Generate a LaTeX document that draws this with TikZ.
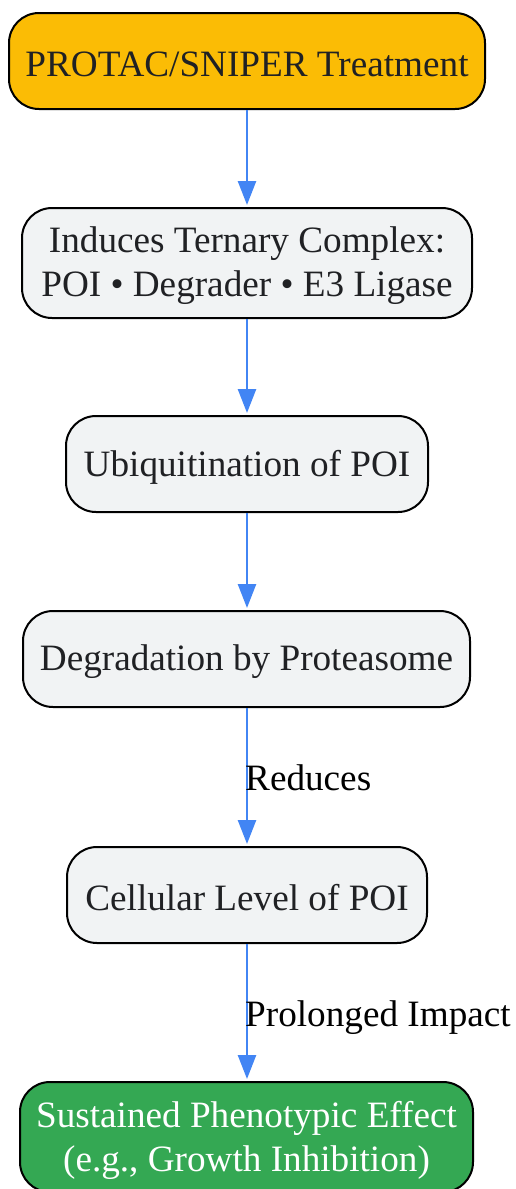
\documentclass[tikz,border=0pt]{standalone}
\usepackage{fontspec}
\setmainfont{Liberation Serif}
\usetikzlibrary{arrows.meta}
\definecolor{gyellow}{HTML}{FBBC05}
\definecolor{ggreen}{HTML}{34A853}
\definecolor{ggray}{HTML}{F1F3F4}
\definecolor{gblue}{HTML}{4285F4}
\definecolor{gtext}{HTML}{202124}
\tikzset{
  box/.style={draw=black, line width=2pt, rounded corners=30pt, inner sep=0pt},
  boxtext/.style={inner sep=0pt, align=center, text=gtext, font=\fontsize{37.2}{44}\selectfont},
  flow/.style={draw=gblue, line width=2.5pt, shorten >=2pt, -{Triangle[width=18pt,length=24pt]}},
  elabel/.style={anchor=base west, inner sep=0pt, text=black, font=\fontsize{37.2}{44}\selectfont}
}
\begin{document}
\begin{tikzpicture}[x=1pt,y=-1pt]
\useasboundingbox[fill=white] (0,0) rectangle (515,1189);
\node[box, fill=gyellow, minimum width=476pt, minimum height=96pt] (n1) at (247,61) {};
\node[box, fill=ggray, minimum width=450pt, minimum height=110pt] (n2) at (247,263) {};
\node[box, fill=ggray, minimum width=362pt, minimum height=96pt] (n3) at (247,464) {};
\node[box, fill=ggray, minimum width=447pt, minimum height=96pt] (n4) at (246.5,659) {};
\node[box, fill=ggray, minimum width=360pt, minimum height=96pt] (n5) at (247,895) {};
\node[box, fill=ggreen, minimum width=453pt, minimum height=110pt] (n6) at (246.5,1137) {};
\node[boxtext] (t1) at ([yshift=-3pt]n1.center) {PROTAC/SNIPER Treatment};
\node[boxtext] (t2) at ([yshift=-3pt]n2.center) {Induces Ternary Complex:\\POI • Degrader • E3 Ligase};
\node[boxtext] (t3) at ([yshift=-3pt]n3.center) {Ubiquitination of POI};
\node[boxtext] (t4) at ([yshift=-3pt]n4.center) {Degradation by Proteasome};
\node[boxtext] (t5) at ([yshift=-3pt]n5.center) {Cellular Level of POI};
\node[boxtext, text=white] (t6) at ([yshift=-3pt]n6.center) {Sustained Phenotypic Effect\\(e.g., Growth Inhibition)};
\draw[flow] (n1.south -| 247,0) -- (n2.north -| 247,0);
\draw[flow] (n2.south -| 247,0) -- (n3.north -| 247,0);
\draw[flow] (n3.south -| 247,0) -- (n4.north -| 247,0);
\draw[flow] (n4.south -| 247,0) -- (n5.north -| 247,0);
\draw[flow] (n5.south -| 247,0) -- (n6.north -| 247,0);
\node[elabel] (l1) at (245,790) {Reduces};
\node[elabel] (l2) at (245,1026) {Prolonged Impact};
\end{tikzpicture}
\end{document}
